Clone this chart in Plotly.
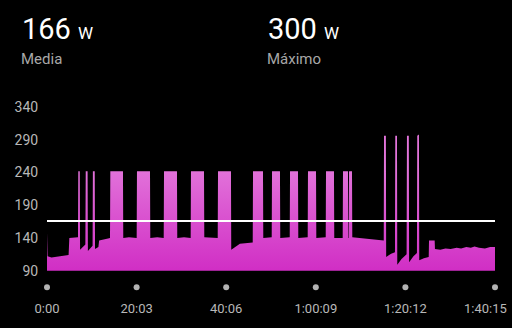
import plotly.graph_objects as go

# ---- data (seconds, watts) ----
time_s = [0, 8, 60, 120, 180, 240, 290, 300, 360, 410,
          416, 420, 440, 444, 480, 515,
          520, 545, 549, 580, 612,
          616, 641, 645, 690, 700, 760, 820, 846,
          850, 1020, 1024, 1100, 1204,
          1208, 1383, 1387, 1480, 1567,
          1571, 1745, 1749, 1840, 1929,
          1933, 2108, 2112, 2200, 2292,
          2296, 2470, 2474, 2530, 2590, 2660, 2762,
          2766, 2900, 2904, 3017,
          3021, 3128, 3132, 3259,
          3263, 3370, 3374, 3500,
          3504, 3612, 3616, 3742,
          3746, 3853, 3857, 3970,
          3974, 4041, 4045, 4051,
          4055, 4095, 4099, 4200, 4300, 4400, 4521,
          4525, 4550, 4554, 4620, 4672,
          4676, 4699, 4703, 4760, 4828,
          4833, 4858, 4862, 4920, 4967,
          4971, 4994, 4998, 5060, 5125,
          5129, 5205, 5209, 5280, 5350, 5420, 5500, 5560, 5630, 5690, 5740, 5800, 5880, 5950, 6015]
power_w = [148, 112, 110, 111, 112, 113, 114, 140, 140, 141,
           141, 242, 242, 122, 126, 130,
           242, 242, 120, 124, 128,
           242, 242, 123, 126, 136, 137, 139, 140,
           242, 242, 140, 141, 140,
           242, 242, 140, 141, 140,
           242, 242, 140, 141, 140,
           242, 242, 141, 140, 140,
           242, 242, 122, 126, 131, 132, 133,
           242, 242, 140, 141,
           242, 242, 140, 141,
           242, 242, 140, 141,
           242, 242, 140, 141,
           242, 242, 140, 140,
           242, 242, 140, 140,
           242, 242, 141, 140, 139, 138, 136,
           296, 296, 111, 116, 118,
           296, 296, 99, 108, 115,
           296, 296, 103, 112, 117,
           296, 298, 106, 109, 111,
           136, 136, 123, 122, 124, 123, 125, 124, 126, 125, 127, 125, 124, 126, 126]

avg_w = 166
max_w = 300

tick_s = [0, 1203, 2406, 3609, 4812, 6015]
tick_labels = ["0:00", "20:03", "40:06", "1:00:09", "1:20:12", "1:40:15"]
y_ticks = [90, 140, 190, 240, 290, 340]

# layout geometry (pixels)
W, H = 512, 328
L, R, T, B = 47, 17, 107, 20
plot_h = H - T - B
main_bottom_px = 274


def px_x(px):
    return (px - L) / (W - L - R)


def px_y(py):
    return (H - B - py) / plot_h


fig = go.Figure()

fig.add_trace(go.Scatter(
    x=time_s, y=power_w, mode="lines", line=dict(width=0, color="#d63fcb"),
    fill="tozeroy",
    fillgradient=dict(type="vertical", start=90, stop=250,
                      colorscale=[[0, "#d02cc4"], [1, "#e274da"]]),
    hoverinfo="skip", xaxis="x", yaxis="y"))

fig.add_trace(go.Scatter(
    x=[time_s[0], time_s[-1]], y=[avg_w, avg_w], mode="lines",
    line=dict(color="white", width=2), hoverinfo="skip",
    xaxis="x", yaxis="y"))

# tick dots on a thin helper axis below the plot
fig.add_trace(go.Scatter(
    x=tick_s, y=[0.5] * len(tick_s), mode="markers",
    marker=dict(color="#b3b3b3", size=6), cliponaxis=False,
    hoverinfo="skip", xaxis="x", yaxis="y2"))

fig.update_layout(
    width=W, height=H,
    paper_bgcolor="black", plot_bgcolor="black",
    margin=dict(l=L, r=R, t=T, b=B),
    showlegend=False,
    font=dict(family="Roboto", color="#b8b8b8", size=13),
    xaxis=dict(range=[0, 6015], tickvals=tick_s,
               ticktext=tick_labels[:-1] + [""],
               anchor="y",
               showgrid=False, zeroline=False, showline=False,
               ticks="outside", ticklen=26, tickcolor="rgba(0,0,0,0)",
               tickfont=dict(size=13, color="#b8b8b8")),
    yaxis=dict(range=[90, 340], tickvals=y_ticks,
               domain=[px_y(main_bottom_px), 1],
               showgrid=False, zeroline=False, showline=False,
               ticks="outside", ticklen=5, tickcolor="rgba(0,0,0,0)",
               tickfont=dict(size=14, color="#b8b8b8")),
    yaxis2=dict(range=[0, 1], domain=[px_y(296), px_y(286)],
                visible=False, anchor="x"),
)

# last x label kept inside the window, as in the original
fig.add_annotation(x=px_x(509), y=px_y(313), xref="paper", yref="paper",
                   xanchor="right", yanchor="middle", showarrow=False,
                   text=tick_labels[-1],
                   font=dict(size=13, color="#b8b8b8", family="Roboto"))

fig.add_annotation(x=px_x(20), y=px_y(47), xref="paper", yref="paper",
                   xanchor="left", yanchor="bottom", showarrow=False,
                   text=f"{avg_w} <span style='font-size:17px'>W</span>",
                   font=dict(size=29, color="white", family="Roboto"))
fig.add_annotation(x=px_x(19), y=px_y(58), xref="paper", yref="paper",
                   xanchor="left", yanchor="middle", showarrow=False,
                   text="Media", font=dict(size=15, color="#a8a8a8", family="Roboto"))
fig.add_annotation(x=px_x(266), y=px_y(47), xref="paper", yref="paper",
                   xanchor="left", yanchor="bottom", showarrow=False,
                   text=f"{max_w} <span style='font-size:17px'>W</span>",
                   font=dict(size=29, color="white", family="Roboto"))
fig.add_annotation(x=px_x(265), y=px_y(58), xref="paper", yref="paper",
                   xanchor="left", yanchor="middle", showarrow=False,
                   text="Máximo", font=dict(size=15, color="#a8a8a8", family="Roboto"))

fig.write_html("out.html")
